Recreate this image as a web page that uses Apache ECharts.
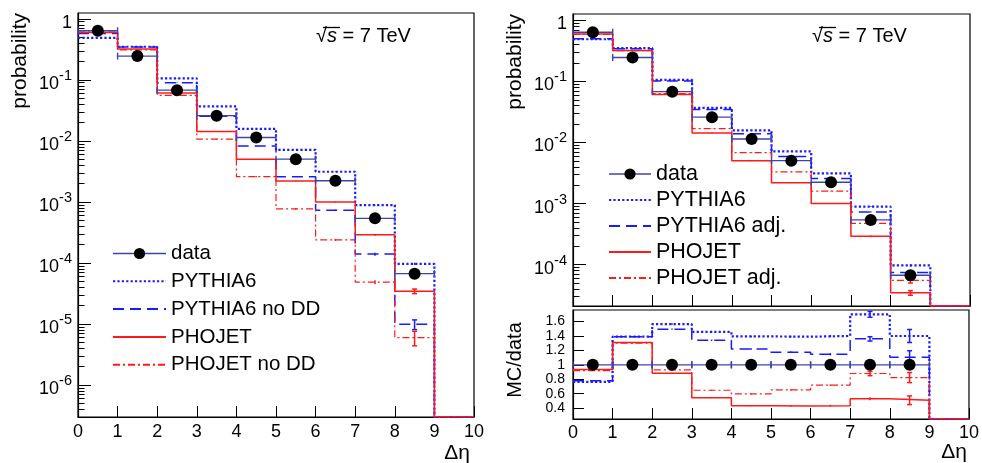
<!DOCTYPE html>
<html><head><meta charset="utf-8">
<script src="https://cdn.jsdelivr.net/npm/echarts@6/dist/echarts.min.js"></script>
<style>html,body{margin:0;padding:0;background:#fff}#c{width:982px;height:463px}</style>
</head><body><div id="c"></div>
<script>
// ---- data (bins of Δη: [0,1),[1,2),...,[9,10)) ----
const binEdges = [0,1,2,3,4,5,6,7,8,9,10];
const xTickLabels = ['0','1','2','3','4','5','6','7','8','9','10'];
const logTicksLeft = [1e-6,1e-5,1e-4,1e-3,1e-2,1e-1,1];
const logTicksRight = [1e-4,1e-3,1e-2,1e-1,1];
const ratioTicks = [0.4,0.6,0.8,1,1.2,1.4,1.6];

const dataVals      = [0.64, 0.246, 0.068, 0.026, 0.0114, 0.00504, 0.00223, 5.4e-4, 6.7e-5];
const pythia6       = [0.49, 0.35, 0.106, 0.037, 0.0158, 0.00716, 0.00313, 8.9e-4, 9.7e-5, 0];
const pythia6NoDD   = [0.575, 0.345, 0.090, 0.0255, 0.0083, 0.0026, 7.3e-4, 1.4e-4, 9.9e-6, 0];
const phojet        = [0.60, 0.32, 0.061, 0.0143, 0.0050, 0.0022, 1.0e-3, 2.9e-4, 3.45e-5, 0];
const phojetNoDD    = [0.61, 0.31, 0.056, 0.0107, 0.0026, 7.7e-4, 2.4e-4, 4.85e-5, 6.0e-6, 0];
const pythia6Adj    = [0.50, 0.342, 0.102, 0.0348, 0.0139, 0.0059, 0.00256, 7.3e-4, 7.4e-5, 0];
const phojetAdj     = [0.59, 0.32, 0.063, 0.0168, 0.0068, 0.0033, 0.0016, 4.75e-4, 5.5e-5, 0];

const errPythia6     = [0.003, 0.002, 7e-4, 3e-4, 1e-4, 5e-5, 3e-5, 1.5e-5, 4e-6, 0];
const errPythia6NoDD = [0.003, 0.002, 7e-4, 3e-4, 1e-4, 4e-5, 2e-5, 8e-6, 1.8e-6, 0];
const errPhojet      = [0.003, 0.002, 6e-4, 2e-4, 8e-5, 4e-5, 2e-5, 1e-5, 3e-6, 0];
const errPhojetNoDD  = [0.003, 0.002, 6e-4, 2e-4, 6e-5, 2e-5, 1e-5, 3.5e-6, 1.6e-6, 0];
const errPythia6Adj  = [0.003, 0.002, 7e-4, 3e-4, 1e-4, 5e-5, 3e-5, 1.5e-5, 4e-6, 0];
const errPhojetAdj   = [0.003, 0.002, 6e-4, 2e-4, 8e-5, 4e-5, 2e-5, 1e-5, 5e-6, 0];

const ratioData       = [1, 1, 1, 1, 1, 1, 1, 1, 1];
const ratioPythia6    = [0.764, 1.39, 1.565, 1.458, 1.394, 1.39, 1.40, 1.70, 1.40, 0];
const ratioPythia6Adj = [0.78, 1.39, 1.495, 1.34, 1.22, 1.176, 1.148, 1.36, 1.106, 0];
const ratioPhojet     = [0.935, 1.31, 0.884, 0.546, 0.435, 0.43, 0.435, 0.53, 0.51, 0];
const ratioPhojetAdj  = [0.92, 1.30, 0.93, 0.648, 0.597, 0.653, 0.718, 0.88, 0.824, 0];
const errRPythia6     = [0.005, 0.006, 0.01, 0.01, 0.01, 0.012, 0.015, 0.04, 0.09, 0];
const errRPythia6Adj  = [0.005, 0.006, 0.01, 0.01, 0.01, 0.012, 0.015, 0.03, 0.09, 0];
const errRPhojet      = [0.005, 0.006, 0.008, 0.008, 0.008, 0.01, 0.012, 0.02, 0.06, 0];
const errRPhojetAdj   = [0.005, 0.006, 0.008, 0.008, 0.008, 0.01, 0.012, 0.03, 0.07, 0];

// ---- styling ----
const FONT = 'Liberation Sans, Arial, Helvetica, sans-serif';
const BLUE = '#1a1aff', RED = '#ff1a1a', NAVY = '#3c44a8';
const Y0L = 3e-7, Y1L = 1.25, Y0R = 2.1e-5, Y1R = 1.27, R0 = 0.25, R1 = 1.76;

const STY = {
  'PYTHIA6':       {color: BLUE, width: 2.2, type: [2.2, 2.2]},
  'PYTHIA6 no DD': {color: BLUE, width: 1.5, type: [11, 6]},
  'PYTHIA6 adj.':  {color: BLUE, width: 1.5, type: [11, 6]},
  'PHOJET':        {color: RED,  width: 1.5, type: 'solid'},
  'PHOJET no DD':  {color: RED,  width: 1.2, type: [7, 3, 2, 3]},
  'PHOJET adj.':   {color: RED,  width: 1.2, type: [7, 3, 2, 3]}
};

function stepSeries(name, vals, gi, floor, legendName) {
  const pts = binEdges.map((x, i) => {
    const v = vals[Math.min(i, vals.length - 1)];
    return [x, v > 0 ? v : floor];
  });
  return {
    type: 'line', name: legendName === false ? '_' + name + gi : name,
    xAxisIndex: gi, yAxisIndex: gi, data: pts, step: 'end',
    symbol: 'none', lineStyle: STY[name], itemStyle: {color: STY[name].color},
    silent: true, z: 3
  };
}
function errSeries(name, vals, errs, gi) {
  const d = [];
  vals.forEach((v, i) => { if (v > 0 && errs[i] > 0) d.push([binEdges[i] + 0.5, v - errs[i], v + errs[i]]); });
  return {
    type: 'custom', name: '_err' + name + gi, xAxisIndex: gi, yAxisIndex: gi, z: 3, silent: true,
    data: d, encode: {x: 0, y: [1, 2]},
    renderItem: function (params, api) {
      const a = api.coord([api.value(0), api.value(1)]);
      const b = api.coord([api.value(0), api.value(2)]);
      const col = STY[name].color;
      const ch = [{type: 'line', shape: {x1: a[0], y1: a[1], x2: b[0], y2: b[1]}, style: {stroke: col, lineWidth: 1.5}}];
      if (Math.abs(a[1] - b[1]) > 4) {
        ch.push({type: 'line', shape: {x1: a[0] - 2.5, y1: a[1], x2: a[0] + 2.5, y2: a[1]}, style: {stroke: col, lineWidth: 1.5}});
        ch.push({type: 'line', shape: {x1: b[0] - 2.5, y1: b[1], x2: b[0] + 2.5, y2: b[1]}, style: {stroke: col, lineWidth: 1.5}});
      }
      return {type: 'group', children: ch};
    }
  };
}
function dataBars(vals, gi) {
  return {
    type: 'custom', name: '_databars' + gi, xAxisIndex: gi, yAxisIndex: gi, z: 4, silent: true,
    data: vals.map((v, i) => [binEdges[i], binEdges[i + 1], v]), encode: {x: [0, 1], y: 2},
    renderItem: function (params, api) {
      const a = api.coord([api.value(0), api.value(2)]);
      const b = api.coord([api.value(1), api.value(2)]);
      const st = {stroke: NAVY, lineWidth: 1.4};
      return {type: 'group', children: [
        {type: 'line', shape: {x1: a[0], y1: a[1], x2: b[0], y2: b[1]}, style: st},
        {type: 'line', shape: {x1: a[0], y1: a[1] - 3.5, x2: a[0], y2: a[1] + 3.5}, style: st},
        {type: 'line', shape: {x1: b[0], y1: b[1] - 3.5, x2: b[0], y2: b[1] + 3.5}, style: st}
      ]};
    }
  };
}
function dataDots(vals, gi, nm) {
  return {
    type: 'line', name: nm, xAxisIndex: gi, yAxisIndex: gi, z: 5, silent: true,
    data: vals.map((v, i) => [binEdges[i] + 0.5, v]),
    symbol: 'circle', symbolSize: 12, showSymbol: true,
    itemStyle: {color: '#000'}, lineStyle: {color: NAVY, width: 0, opacity: 0}
  };
}

function logLabel(v) {
  const e = Math.round(Math.log10(v));
  if (e === 0) return '{b|1}';
  return '{b|10}{s|' + e + '}';
}
const logRich = {
  b: {fontSize: 18, fontFamily: FONT, color: '#000', padding: [8, 0, 0, 0]},
  s: {fontSize: 14.5, fontFamily: FONT, color: '#000', padding: [0, 0, 8, 0]}
};
function logAxis(gi, mn, mx, ticks, split) {
  return {
    type: 'log', logBase: 10, gridIndex: gi, min: mn, max: mx, splitNumber: split,
    axisLine: {show: true, lineStyle: {color: '#000', width: 1.2}},
    axisTick: {show: true, inside: true, length: 13, customValues: ticks, lineStyle: {color: '#000', width: 1}},
    minorTick: {show: true, splitNumber: 9, length: 6.5, lineStyle: {color: '#000', width: 1}},
    axisLabel: {customValues: ticks, formatter: logLabel, rich: logRich, margin: 6, fontFamily: FONT,
                hideOverlap: false, showMinLabel: true, showMaxLabel: true},
    splitLine: {show: false}, minorSplitLine: {show: false}
  };
}
function xAxis(gi, showLabels) {
  return {
    type: 'value', gridIndex: gi, min: 0, max: 10, interval: 1,
    axisLine: {show: true, lineStyle: {color: '#000', width: 1.2}},
    axisTick: {show: true, inside: true, length: 11, lineStyle: {color: '#000', width: 1}},
    axisLabel: {show: showLabels, fontSize: 18, fontFamily: FONT, color: '#000', margin: gi === 0 ? 6 : 5,
                hideOverlap: false, showMinLabel: true, showMaxLabel: true,
                formatter: v => xTickLabels[Math.round(v)]},
    splitLine: {show: false}
  };
}

const series = [];
// left panel
series.push(stepSeries('PYTHIA6', pythia6, 0, Y0L));
series.push(stepSeries('PYTHIA6 no DD', pythia6NoDD, 0, Y0L));
series.push(stepSeries('PHOJET', phojet, 0, Y0L));
series.push(stepSeries('PHOJET no DD', phojetNoDD, 0, Y0L));
series.push(errSeries('PYTHIA6', pythia6, errPythia6, 0));
series.push(errSeries('PYTHIA6 no DD', pythia6NoDD, errPythia6NoDD, 0));
series.push(errSeries('PHOJET', phojet, errPhojet, 0));
series.push(errSeries('PHOJET no DD', phojetNoDD, errPhojetNoDD, 0));
series.push(dataBars(dataVals, 0));
series.push(dataDots(dataVals, 0, 'data'));
// right top panel
series.push(stepSeries('PYTHIA6', pythia6, 1, Y0R));
series.push(stepSeries('PYTHIA6 adj.', pythia6Adj, 1, Y0R));
series.push(stepSeries('PHOJET', phojet, 1, Y0R));
series.push(stepSeries('PHOJET adj.', phojetAdj, 1, Y0R));
series.push(errSeries('PYTHIA6', pythia6, errPythia6, 1));
series.push(errSeries('PYTHIA6 adj.', pythia6Adj, errPythia6Adj, 1));
series.push(errSeries('PHOJET', phojet, errPhojet, 1));
series.push(errSeries('PHOJET adj.', phojetAdj, errPhojetAdj, 1));
series.push(dataBars(dataVals, 1));
series.push(dataDots(dataVals, 1, 'data'));
// ratio panel
series.push(stepSeries('PYTHIA6', ratioPythia6, 2, R0, false));
series.push(stepSeries('PYTHIA6 adj.', ratioPythia6Adj, 2, R0, false));
series.push(stepSeries('PHOJET', ratioPhojet, 2, R0, false));
series.push(stepSeries('PHOJET adj.', ratioPhojetAdj, 2, R0, false));
series.push(errSeries('PYTHIA6', ratioPythia6, errRPythia6, 2));
series.push(errSeries('PYTHIA6 adj.', ratioPythia6Adj, errRPythia6Adj, 2));
series.push(errSeries('PHOJET', ratioPhojet, errRPhojet, 2));
series.push(errSeries('PHOJET adj.', ratioPhojetAdj, errRPhojetAdj, 2));
series.push(dataBars(ratioData, 2));
series.push(dataDots(ratioData, 2, '_rdata'));

const noSym = {opacity: 0};
function legendItems(names) {
  return names.map(n => n === 'data'
    ? {name: 'data', lineStyle: {width: 1.5, opacity: 1, color: NAVY}}
    : {name: n, itemStyle: noSym});
}
const legendCommon = {
  orient: 'vertical', itemWidth: 53, itemHeight: 14, selectedMode: false,
  textStyle: {fontFamily: FONT, color: '#000', lineHeight: 20, padding: [0, 0, 0, 0]}
};
const sqrtRich = {r: {fontSize: 20, fontFamily: FONT}, i: {fontSize: 20, fontStyle: 'italic', fontFamily: FONT}};
const option = {
  animation: false,
  backgroundColor: '#fff',
  grid: [
    {left: 78, top: 13, width: 396, height: 404, show: true, borderColor: '#000', borderWidth: 1.2},
    {left: 573, top: 14, width: 397, height: 292, show: true, borderColor: '#000', borderWidth: 1.2},
    {left: 573, top: 310, width: 397, height: 109, show: true, borderColor: '#000', borderWidth: 1.2}
  ],
  xAxis: [xAxis(0, true), xAxis(1, false), xAxis(2, true)],
  yAxis: [
    logAxis(0, Y0L, Y1L, logTicksLeft, 7),
    logAxis(1, Y0R, Y1R, logTicksRight, 5),
    {
      type: 'value', gridIndex: 2, min: R0, max: R1,
      axisLine: {show: true, lineStyle: {color: '#000', width: 1.2}},
      axisTick: {show: true, inside: true, length: 11, customValues: ratioTicks, lineStyle: {color: '#000'}},
      axisLabel: {customValues: ratioTicks, fontSize: 14, fontFamily: FONT, color: '#000', margin: 8,
                  hideOverlap: false, showMinLabel: true, showMaxLabel: true,
                  formatter: v => String(Math.round(v * 10) / 10)},
      splitLine: {show: false}
    }
  ],
  legend: [
    Object.assign({}, legendCommon, {
      left: 107, top: 238, itemGap: 6.8,
      textStyle: Object.assign({}, legendCommon.textStyle, {fontSize: 20.5}),
      data: legendItems(['data', 'PYTHIA6', 'PYTHIA6 no DD', 'PHOJET', 'PHOJET no DD'])
    }),
    Object.assign({}, legendCommon, {
      left: 603, top: 158, itemWidth: 42, itemGap: 4,
      textStyle: Object.assign({}, legendCommon.textStyle, {fontSize: 21.5}),
      data: legendItems(['data', 'PYTHIA6', 'PYTHIA6 adj.', 'PHOJET', 'PHOJET adj.'])
    })
  ],
  graphic: [
    {type: 'text', left: 316, top: 26, style: {text: '{r|√}{i|s} = 7 TeV', font: '20px ' + FONT, fill: '#000', rich: sqrtRich}},
    {type: 'line', shape: {x1: 323, y1: 27.5, x2: 340, y2: 27.5}, style: {stroke: '#000', lineWidth: 1.3}},
    {type: 'text', left: 812, top: 26, style: {text: '{r|√}{i|s} = 7 TeV', font: '20px ' + FONT, fill: '#000', rich: sqrtRich}},
    {type: 'line', shape: {x1: 819, y1: 27.5, x2: 836, y2: 27.5}, style: {stroke: '#000', lineWidth: 1.3}},
    {type: 'text', x: 20, y: 13, rotation: Math.PI / 2, style: {text: 'probability', font: '21px ' + FONT, fill: '#000',
      align: 'right', verticalAlign: 'middle'}},
    {type: 'text', x: 515, y: 14, rotation: Math.PI / 2, style: {text: 'probability', font: '21px ' + FONT, fill: '#000',
      align: 'right', verticalAlign: 'middle'}},
    {type: 'text', x: 515, y: 360, rotation: Math.PI / 2, style: {text: 'MC/data', font: '20px ' + FONT, fill: '#000',
      align: 'center', verticalAlign: 'middle'}},
    {type: 'text', x: 470, y: 453, style: {text: 'Δη', font: '21px ' + FONT, fill: '#000', align: 'right', verticalAlign: 'middle'}},
    {type: 'text', x: 967, y: 452, style: {text: 'Δη', font: '21px ' + FONT, fill: '#000', align: 'right', verticalAlign: 'middle'}}
  ],
  series: series
};
const chart = echarts.init(document.getElementById('c'), null, {renderer: 'canvas'});
chart.setOption(option);
</script></body></html>
